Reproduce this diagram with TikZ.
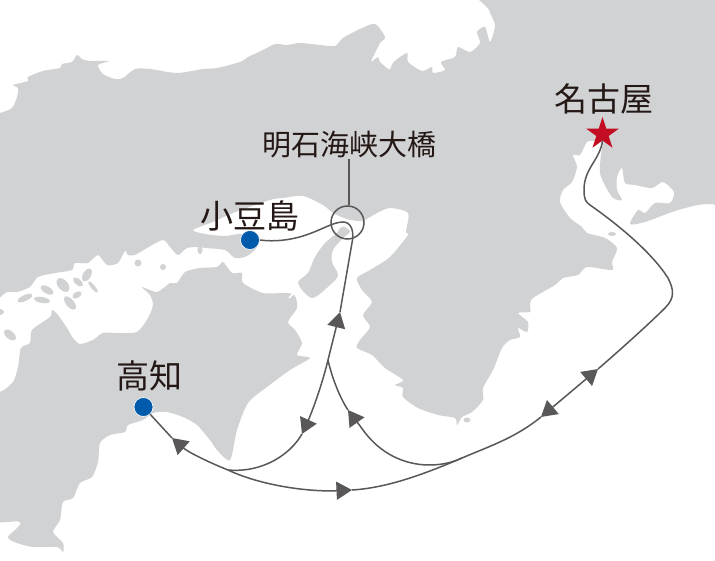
\documentclass[tikz,border=0pt]{standalone}
\usepackage{fontspec}
\newfontfamily\jpfont{Noto Sans CJK JP}
\usetikzlibrary{arrows.meta, shapes.geometric}
\definecolor{landgray}{HTML}{D1D2D4}
\definecolor{routegray}{HTML}{595757}
\definecolor{portblue}{HTML}{005BAC}
\definecolor{starred}{HTML}{C30D23}
\definecolor{inkblack}{HTML}{231815}
\begin{document}
\begin{tikzpicture}[
        x = 1pt,
        y = -1pt,
        land/.style      = {fill=landgray, draw=none},
        route/.style     = {draw=routegray, line width=1.5pt},
        tipped/.style    = {route, -{Triangle[length=15.5pt, width=18pt]}},
        twotipped/.style = {route, {Triangle[length=15.5pt, width=18pt]}-{Triangle[length=15.5pt, width=18pt]}},
        port/.style      = {circle, fill=portblue, draw=white, line width=0.6pt, minimum size=19pt, inner sep=0},
        place/.style     = {font=\jpfont\fontsize{33}{33}\selectfont, text=inkblack, inner sep=0},
        bridgename/.style= {font=\jpfont\fontsize{29}{29}\selectfont, text=inkblack, inner sep=0},
      ]
    \useasboundingbox (0,0) rectangle (715,561);
    \fill[white] (0,0) rectangle (715,561);

    % Honshu
    \fill[land] plot[smooth cycle, tension=0.45] coordinates {
        (-20,118) (0,113) (12,108) (17,97) (18,88) (13,85) (28,81) (28,77) (43,71) (60,68) (62,64) (72,62) (77,55)
        (82,59) (90,61) (109,61) (98,65) (103,74) (115,79) (123,78) (135,69) (150,69) (177,73) (203,69) (217,68)
        (240,62) (248,57) (263,50) (275,44) (287,45) (300,43) (320,45) (335,46) (343,38) (360,29)
        (375,24) (385,37) (380,43) (375,53) (371,62) (378,57) (380,62) (390,70) (400,72) (388,79) (393,63) (407,53)
        (408,62) (422,71) (432,67) (433,73) (445,70) (441,62) (455,57) (458,47) (470,52) (480,43) (477,32) (485,27)
        (490,42) (495,25) (489,10) (482,-20) (735,-20) (735,204) (713,204) (698,205) (675,211) (645,222) (630,224)
        (638,210) (645,213) (655,203) (670,203) (674,192) (663,182) (652,188) (635,185) (625,183) (622,168) (617,177)
        (617,190) (622,200) (612,197) (600,173) (602,143) (595,141) (587,142) (580,155) (573,155) (577,167) (572,182)
        (563,190) (560,202) (570,218) (582,227) (587,233) (605,238) (617,248) (612,262) (612,270) (587,267) (578,275)
        (563,278) (555,285) (533,298) (530,305) (530,312) (518,313) (528,322) (527,332) (518,328) (520,337) (510,340)
        (502,348) (493,370) (483,388) (483,400) (472,412) (462,417) (457,425) (455,418) (438,415) (418,408) (403,397)
        (403,388) (395,385) (403,380) (385,368) (372,355) (357,348) (360,340) (370,327) (363,315) (372,302) (362,290)
        (357,278) (370,270) (390,257) (408,235) (406,232) (408,213) (390,208) (377,213) (362,221) (347,219) (333,213)
        (323,205) (303,196) (283,198) (270,200) (233,213) (213,222) (193,230) (205,234) (225,236) (243,234) (258,245)
        (247,256) (235,258) (225,250) (205,248) (200,247) (187,248) (178,255) (170,247) (163,240) (147,248) (135,255)
        (128,255) (125,251) (118,263) (107,265) (98,255) (88,263) (75,263) (72,270) (55,273) (38,277) (30,287) (17,292)
        (7,292) (-20,298)
    };

    % Shikoku and Kyushu
    \fill[land] plot[smooth cycle, tension=0.45] coordinates {
        (-20,395) (0,392) (13,382) (18,367) (21,348) (30,343) (32,330) (50,317) (52,310) (58,315) (67,328) (73,338)
        (80,344) (93,340) (103,333) (120,333) (137,332) (148,318) (153,305) (150,295) (142,287) (157,292) (170,283)
        (177,283) (185,272) (200,268) (217,267) (223,262) (232,273) (242,273) (243,283) (263,293) (287,293) (295,296)
        (297,308) (288,322) (295,330) (302,343) (297,355) (310,358) (290,370) (267,387) (248,403) (237,430) (230,460)
        (217,450) (210,440) (197,425) (183,417) (167,412) (153,413) (143,420) (128,425) (125,432) (110,435) (100,443)
        (98,462) (92,477) (80,483) (73,498) (63,502) (60,520) (53,532) (63,543) (63,552) (57,547) (33,547) (17,543)
        (8,537) (20,522) (-20,513)
    };
    \draw[white, line width=1.5pt] (289,298) -- (296,291);

    % Awaji
    \fill[land] plot[smooth cycle, tension=0.5] coordinates {
        (345,227) (350,232) (343,238) (333,250) (332,262) (338,275) (330,285) (312,298) (298,283) (308,273) (315,257)
        (325,243) (337,233) (340,228)
    };

    % small islands
    \fill[land] (138,263) ellipse (3.5 and 3.5);
    \fill[land] (163,267) ellipse (3 and 3);
    \fill[land] (612,234) ellipse (4 and 2);
    \fill[land] (467,420) ellipse (3.5 and 2.5);
    \fill[land] (200,250) ellipse (2.5 and 4);
    \fill[land, rotate around={60:(87,275)}] (87,275) ellipse (7 and 4);
    \fill[land, rotate around={-40:(78,282)}] (78,282) ellipse (6 and 3);
    \fill[land, rotate around={-50:(93,287)}] (93,287) ellipse (7 and 2);
    \fill[land, rotate around={-50:(63,285)}] (63,285) ellipse (8 and 5);
    \fill[land, rotate around={-30:(47,290)}] (47,290) ellipse (7 and 3.5);
    \fill[land, rotate around={25:(25,298)}] (25,298) ellipse (8 and 3);
    \fill[land, rotate around={-10:(42,300)}] (42,300) ellipse (8 and 3);
    \fill[land, rotate around={-50:(70,303)}] (70,303) ellipse (8 and 4);
    \fill[land, rotate around={30:(77,295)}] (77,295) ellipse (5 and 3);
    \fill[land, rotate around={-40:(10,335)}] (10,335) ellipse (7 and 4);
    \fill[land] (0,312) ellipse (4 and 3);

    \node[place] at (250,216) {小豆島};
    \node[place] at (604,99) {名古屋};
    \node[place] at (149,376) {高知};
    \node[bridgename] (bridge) at (349,145) {明石海峡大橋};

    \node[circle, draw=routegray, line width=1.5pt, minimum size=33pt, inner sep=0] (akashi) at (347.5,222.5) {};
    \draw[route] (bridge.south) -- (bridge.south |- akashi.north);

    \node[port] (shodo) at (250,240) {};
    \node[port] (kochi) at (143.5,407) {};
    \node[star, star points=5, star point ratio=2.618, fill=starred, minimum size=34pt, inner sep=0] (nagoya) at (602.5,134) {};

    % where the routes meet or carry a tip
    \coordinate (gulf) at (462,458);
    \coordinate (cape) at (228,470);
    \coordinate (fork) at (328,360);
    \coordinate (tipa) at (598,369);
    \coordinate (tipb) at (541,417);
    \coordinate (tipc) at (352,490);
    \coordinate (tipd) at (172,438);
    \coordinate (tipe) at (348,410);
    \coordinate (tipf) at (302,434);
    \coordinate (tipg) at (340,312);

    \draw[route] (nagoya.south) .. controls (600,160) and (584,168) .. (584,190)
        .. controls (584,200) and (586,202) .. (590,205)
        .. controls (620,226) and (652,253) .. (668,278)
        .. controls (674,290) and (675,298) .. (665,308)
        .. controls (650,323) and (620,350) .. (tipa);
    \draw[twotipped] (tipa) -- (tipb);
    \draw[route] (tipb) .. controls (515,438) and (490,446) .. (gulf);
    \draw[route] (gulf) .. controls (420,476) and (385,488) .. (tipc);
    \draw[tipped] (cape) .. controls (262,486) and (310,492) .. (tipc);
    \draw[tipped] (cape) .. controls (208,462) and (188,452) .. (tipd);
    \draw[route] (kochi) -- (tipd);
    \draw[tipped] (gulf) .. controls (437,470) and (392,470) .. (363,430)
        .. controls (358,423) and (353,417) .. (tipe);
    \draw[route] (tipe) .. controls (340,398) and (332,378) .. (fork);
    \draw[tipped] (fork) .. controls (322,385) and (312,412) .. (tipf);
    \draw[route] (tipf) .. controls (290,455) and (262,473) .. (cape);
    \draw[tipped] (fork) -- (tipg);
    \draw[route] (tipg) -- (352.5,240) .. controls (354,229) and (350,222) .. (343,222)
        .. controls (333,222) and (322,230) .. (303,236)
        .. controls (290,240) and (275,242) .. (shodo.east);
\end{tikzpicture}
\end{document}
